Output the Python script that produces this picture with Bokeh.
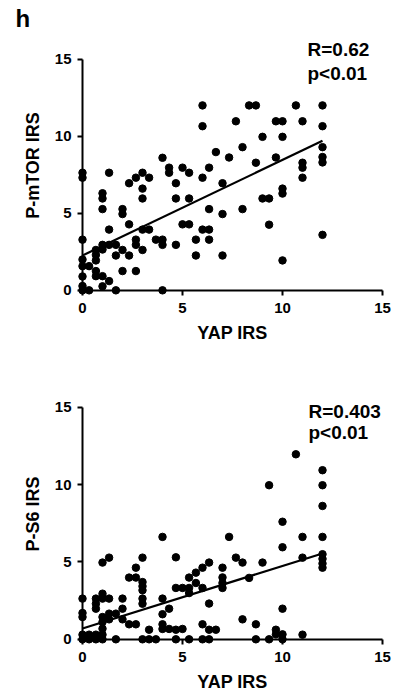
import numpy as np
from bokeh.plotting import figure
from bokeh.models import Label, FixedTicker, Range1d, LinearAxis
from bokeh.layouts import column
from bokeh.embed import file_html
from bokeh.resources import INLINE

# ---------------- data ----------------
# Panel 1: YAP IRS vs P-mTOR IRS, grouped by YAP IRS level
mtor_yap_levels = [0, 0.33, 0.67, 1.0, 1.33, 1.67, 2.0, 2.33, 2.67, 3.0, 3.33, 3.67,
                   4.0, 4.33, 4.67, 5.0, 5.33, 5.67, 6.0, 6.33, 6.67, 7.0, 7.33, 7.67,
                   8.0, 8.33, 8.67, 9.0, 9.33, 9.67, 10.0, 10.67, 11.0, 12.0]
mtor_values = [
    [7.63, 7.31, 3.29, 2.0, 1.57, 0.9, 0.28, 0],
    [1.57, 0],
    [2.62, 2.3, 1.94, 1.25, 0.92],
    [6.3, 5.96, 5.27, 2.95, 2.65, 0.92, 0.26],
    [7.63, 3.94, 2.95, 0.6],
    [2.95, 2.26, 0],
    [5.27, 4.95, 2.62, 1.25],
    [6.95, 4.28, 2.26],
    [7.31, 3.29, 2.95, 1.25],
    [7.63, 6.6, 5.96, 3.94, 2.62],
    [7.31, 3.94],
    [3.29],
    [8.6, 3.29, 2.95, 0],
    [7.96, 7.63],
    [6.95, 5.96, 2.95],
    [7.96, 4.28],
    [7.63, 5.96, 4.28],
    [3.29, 2.26],
    [12, 10.65, 7.31, 3.94],
    [7.96, 5.27, 3.94, 3.29],
    [8.97],
    [6.95, 4.95, 2.26],
    [8.62],
    [10.97],
    [9.29, 5.27],
    [12],
    [12, 8.28],
    [9.96, 5.96],
    [5.96, 4.26],
    [10.97, 8.62],
    [10.97, 9.96, 6.6, 6.28, 1.94],
    [12],
    [10.97, 8.28, 7.96, 7.31],
    [12, 10.65, 9.29, 8.65, 8.3, 3.6],
]
mtor_fit_intercept = 2.26
mtor_fit_slope = 0.62
mtor_stats = ["R=0.62", "p<0.01"]

# Panel 2: YAP IRS vs P-S6 IRS
s6_yap_levels = [0, 0.33, 0.67, 1.0, 1.33, 1.67, 2.0, 2.33, 2.67, 3.0, 3.33, 3.67,
                 4.0, 4.33, 4.67, 5.0, 5.33, 5.67, 6.0, 6.33, 6.67, 7.0, 7.33, 7.67,
                 8.0, 8.33, 8.67, 9.0, 9.33, 9.67, 10.0, 10.67, 11.0, 12.0]
s6_values = [
    [2.63, 1.7, 1.44, 0.3, 0],
    [0.3, 0],
    [2.63, 2.3, 1.98, 0.3, 0],
    [4.96, 2.95, 2.63, 1.44, 1.12, 0.69, 0.3, 0],
    [5.28, 2.63, 1.66, 1.29],
    [1.66, 0],
    [2.63, 1.98, 1.29],
    [3.99, 0.97],
    [4.63, 3.99, 0.97],
    [5.28, 3.7, 3.43, 3.17, 2.63, 2.3, 0],
    [0.62, 0],
    [0],
    [6.62, 2.63, 1.62, 0.97, 0.67],
    [1.98, 0.67],
    [5.3, 3.32, 0.62, 0],
    [3.32, 0.67],
    [3.99, 3.32, 2.99, 0],
    [4.31, 3.64],
    [4.63, 3.32, 0.97, 0],
    [4.96, 2.31, 0.62, 0],
    [0.62],
    [4.63, 4.0, 3.64, 3.32],
    [6.62],
    [5.28],
    [4.96, 1.29],
    [3.97],
    [0.97, 0],
    [4.96],
    [9.96, 0],
    [0.62, 0.32],
    [7.6, 5.95, 1.98, 0.32, 0],
    [11.96],
    [6.62, 5.28, 0.3],
    [10.93, 9.96, 8.62, 6.62, 5.5, 5.2, 4.9, 4.63],
]
s6_fit_intercept = 0.7
s6_fit_slope = 0.404
s6_stats = ["R=0.403", "p<0.01"]

x_title = "YAP IRS"
mtor_title = "P-mTOR IRS"
s6_title = "P-S6 IRS"
axis_ticks = [0, 5, 10, 15]
panel_letter = "h"

FONT = "Liberation Sans"


def expand(levels, groups):
    xs, ys = [], []
    for lv, g in zip(levels, groups):
        for v in g:
            xs.append(lv)
            ys.append(v)
    return xs, ys


def style_labels(ax):
    ax.ticker = FixedTicker(ticks=axis_ticks)
    ax.bounds = (0, 15)
    ax.axis_line_color = None
    ax.major_tick_line_color = None
    ax.minor_tick_line_color = None
    ax.major_tick_out = 0
    ax.major_tick_in = 0
    ax.major_label_text_font = FONT
    ax.major_label_text_font_style = "bold"
    ax.major_label_text_font_size = "15px"
    ax.major_label_text_color = "black"
    ax.axis_label_text_font = FONT
    ax.axis_label_text_font_style = "bold"
    ax.axis_label_text_font_size = "18px"
    ax.axis_label_text_color = "black"


def rule_axis():
    # axis line + ticks drawn at data 0, ticks pointing outward
    ax = LinearAxis(fixed_location=0, bounds=(0, 15),
                    ticker=FixedTicker(ticks=axis_ticks),
                    major_label_overrides={t: "" for t in axis_ticks})
    ax.axis_line_width = 2
    ax.axis_line_color = "black"
    ax.major_tick_line_width = 2
    ax.major_tick_line_color = "black"
    ax.major_tick_out = 0
    ax.major_tick_in = 5
    ax.minor_tick_line_color = None
    ax.major_label_standoff = 0
    ax.major_label_text_font_size = "1px"
    return ax


def make_panel(levels, groups, intercept, slope, ytitle, stats, height,
               border_bottom, stat_x, stat_ys):
    xs, ys = expand(levels, groups)
    p = figure(width=398, height=height,
               x_range=Range1d(-0.4, 15.4), y_range=Range1d(-0.4, 16.6),
               output_backend="svg", toolbar_location=None,
               min_border_left=74, min_border_right=8,
               min_border_top=33, min_border_bottom=border_bottom)
    p.outline_line_color = None
    p.xgrid.visible = False
    p.ygrid.visible = False
    p.background_fill_color = "white"
    p.border_fill_color = "white"

    xa = p.xaxis[0]
    ya = p.yaxis[0]
    style_labels(xa)
    style_labels(ya)
    xa.axis_label = x_title
    ya.axis_label = ytitle
    xa.major_label_standoff = 6
    ya.major_label_standoff = 3
    xa.axis_label_standoff = 7
    ya.axis_label_standoff = 9

    # rule axes: x rule in "above" (ticks in = downward), y rule in "right" (ticks in = leftward)
    p.add_layout(rule_axis(), "above")
    p.add_layout(rule_axis(), "right")

    p.scatter(xs, ys, size=7.5, color="black")
    xf = np.array([min(xs), max(xs)], dtype=float)
    p.line(xf, intercept + slope * xf, line_width=2.2, color="black")

    for t, yy in zip(stats, stat_ys):
        p.add_layout(Label(x=stat_x, y=yy, text=t, text_font=FONT,
                           text_font_style="bold", text_font_size="19px",
                           text_align="left", text_baseline="alphabetic",
                           text_color="black"))
    return p


p1 = make_panel(mtor_yap_levels, mtor_values, mtor_fit_intercept, mtor_fit_slope,
                mtor_title, mtor_stats, 349, 53, 11.25, [15.6, 14.05])
p1.title.text = panel_letter
p1.title.align = "left"
p1.title.offset = -59
p1.title.standoff = 5
p1.title.text_font = FONT
p1.title.text_font_style = "bold"
p1.title.text_font_size = "24px"
p1.title.text_color = "black"

p2 = make_panel(s6_yap_levels, s6_values, s6_fit_intercept, s6_fit_slope,
                s6_title, s6_stats, 348, 52, 11.3, [14.7, 13.35])

layout = column(p1, p2, spacing=0)
open("out.html", "w").write(file_html(layout, INLINE))
